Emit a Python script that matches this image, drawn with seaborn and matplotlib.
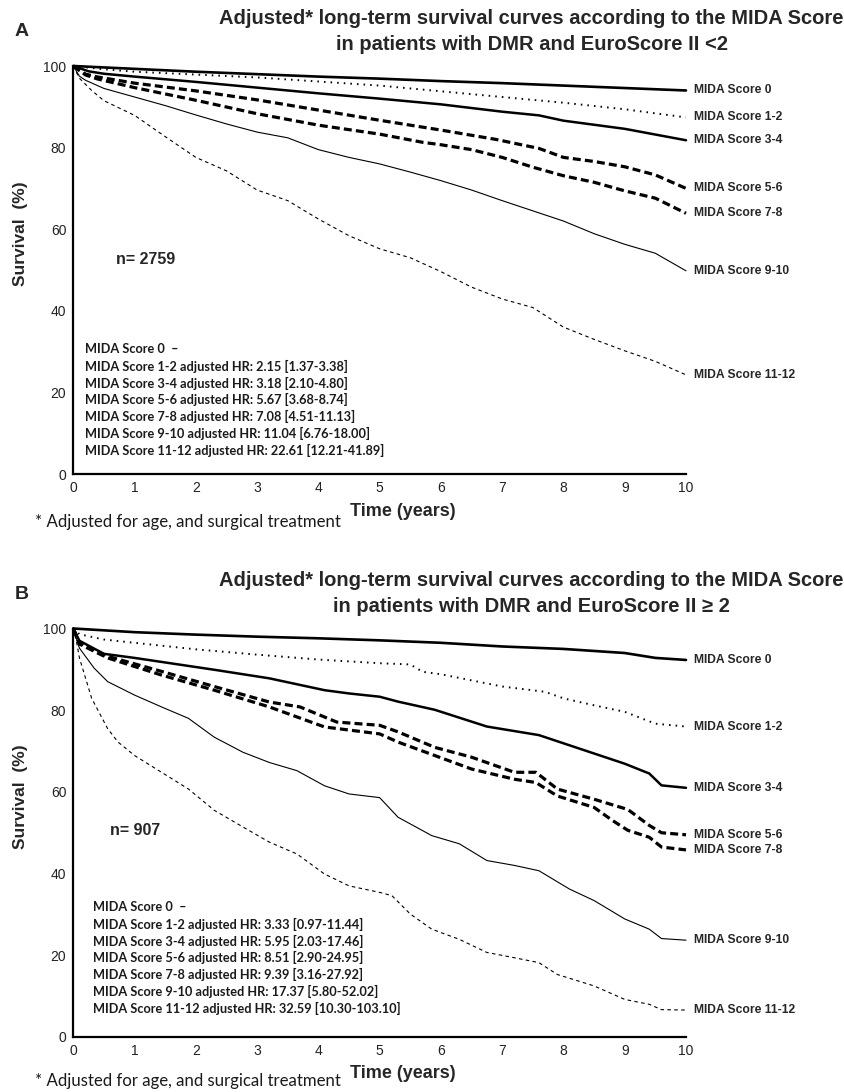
import numpy as np
import pandas as pd
import matplotlib
matplotlib.use("Agg")
import matplotlib.pyplot as plt
import seaborn as sns

sns.set_theme(style="white")
plt.rcParams['font.family'] = ['Liberation Sans', 'DejaVu Sans']

# ---------------- data ----------------
groups = ["MIDA Score 0", "MIDA Score 1-2", "MIDA Score 3-4", "MIDA Score 5-6",
          "MIDA Score 7-8", "MIDA Score 9-10", "MIDA Score 11-12"]

# Panel A  (EuroScore II < 2)
a_t0 = [0, 1, 2, 3, 4, 5, 6, 7, 8, 9, 10]
a_v0 = [100, 99.3, 98.6, 98.0, 97.4, 96.9, 96.3, 95.8, 95.2, 94.6, 94.0]
a_t1 = [0, 0.5, 1, 2, 3, 4, 5, 6, 7, 8, 9, 10]
a_v1 = [100, 99.2, 98.6, 97.9, 97.2, 96.2, 95.2, 93.8, 92.4, 91.0, 89.4, 87.4]
a_t2 = [0, 0.25, 0.5, 1, 2, 3, 4, 5, 6, 7, 7.6, 8, 9, 10]
a_v2 = [100, 98.7, 98.1, 97.4, 96.1, 94.7, 93.3, 92.0, 90.6, 88.8, 87.9, 86.6, 84.6, 81.8]
a_t3 = [0, 0.2, 0.4, 1, 2, 3, 4, 5, 6, 6.9, 7.6, 8, 8.5, 9, 9.5, 10]
a_v3 = [100, 98.0, 97.3, 95.8, 93.9, 91.7, 89.2, 86.7, 84.3, 82.0, 79.8, 77.6, 76.6, 75.3, 73.3, 70.0]
a_t4 = [0, 0.2, 0.4, 1, 2, 3, 4, 5, 5.7, 6, 6.5, 7, 7.5, 8, 8.5, 9, 9.5, 10]
a_v4 = [100, 97.8, 96.8, 94.7, 91.6, 88.3, 85.5, 83.3, 81.3, 80.7, 79.5, 77.6, 75.2, 73.1, 71.5, 69.4, 67.6, 63.9]
a_t5 = [0, 0.1, 0.2, 0.5, 1, 1.5, 2, 2.5, 3, 3.5, 4, 4.5, 5, 5.5, 6, 6.5, 7, 7.5, 8, 8.5, 9, 9.5, 10]
a_v5 = [100, 97.5, 96.5, 94.5, 92.4, 90.3, 88.0, 85.8, 83.8, 82.4, 79.5, 77.6, 76.0, 74.0, 71.9, 69.6, 67.0,
        64.5, 62.0, 58.9, 56.3, 54.1, 49.8]
a_t6 = [0, 0.1, 0.3, 0.5, 1, 1.5, 2, 2.5, 3, 3.5, 4, 4.5, 5, 5.5, 6, 6.5, 7, 7.5, 8, 8.5, 9, 9.5, 10]
a_v6 = [100, 97.0, 94.0, 91.5, 87.9, 82.7, 77.6, 74.3, 69.6, 67.0, 62.5, 58.4, 55.2, 53.0, 49.6, 45.8, 42.9,
        40.8, 36.0, 33.0, 30.2, 27.6, 24.3]

# Panel B  (EuroScore II >= 2)
b_t0 = [0, 1, 2, 3, 4, 5, 6, 7, 8, 9, 9.5, 10]
b_v0 = [100, 99.1, 98.5, 98.0, 97.6, 97.1, 96.5, 95.6, 95.0, 94.0, 92.8, 92.3]
b_t1 = [0, 0.1, 0.5, 1, 2, 3, 4, 5, 5.5, 5.7, 6, 7, 7.7, 8, 8.5, 9, 9.5, 10]
b_v1 = [100, 98.6, 97.3, 96.5, 94.9, 93.6, 92.4, 91.5, 91.2, 89.4, 88.8, 85.8, 84.5, 82.9, 81.2, 79.6, 76.7, 76.0]
b_t2 = [0, 0.1, 0.5, 1, 2.3, 3.2, 4.1, 4.5, 5, 5.3, 5.9, 6.75, 7.6, 8.1, 8.5, 9, 9.4, 9.6, 10]
b_v2 = [100, 97.0, 93.8, 92.8, 89.9, 87.8, 84.9, 84.1, 83.3, 82.1, 80.1, 76.0, 73.9, 71.4, 69.4, 66.9, 64.5, 61.6, 61.0]
b_t3 = [0, 0.1, 0.56, 1.44, 2.3, 3.2, 3.7, 4.3, 5, 5.3, 5.9, 6.5, 7.2, 7.55, 7.9, 8.5, 9.05, 9.4, 9.6, 10]
b_v3 = [100, 96.5, 93.2, 89.5, 85.8, 82.0, 80.8, 77.1, 76.3, 74.7, 70.9, 68.5, 64.8, 64.8, 60.7, 58.2, 55.7,
        51.8, 50.0, 49.5]
b_t4 = [0, 0.1, 0.56, 1.44, 2.3, 3.2, 4.1, 5, 5.3, 5.9, 6.5, 7.2, 7.55, 7.9, 8.5, 8.8, 9.05, 9.4, 9.6, 10]
b_v4 = [100, 96.2, 92.8, 88.6, 84.9, 80.8, 75.9, 74.2, 72.2, 68.9, 65.6, 63.1, 62.3, 59.0, 56.2, 53.0, 50.6,
        48.9, 46.5, 45.8]
b_t5 = [0, 0.1, 0.34, 0.56, 1, 1.44, 1.88, 2.3, 2.77, 3.2, 3.65, 4.1, 4.5, 5, 5.3, 5.85, 6.3, 6.75, 7.2, 7.6,
        8.1, 8.5, 9, 9.4, 9.6, 10]
b_v5 = [100, 95.2, 90.3, 87.0, 83.7, 80.8, 78.0, 73.4, 69.7, 67.2, 65.2, 61.5, 59.5, 58.6, 53.8, 49.3, 47.3,
        43.2, 42.0, 40.7, 36.2, 33.4, 28.9, 26.4, 24.1, 23.7]
b_t6 = [0, 0.05, 0.1, 0.3, 0.56, 0.73, 1, 1.44, 1.88, 2.3, 2.77, 3.2, 3.65, 4.1, 4.5, 5, 5.2, 5.5, 5.85, 6.3,
        6.75, 7.2, 7.6, 7.9, 8.5, 9, 9.4, 9.6, 10]
b_v6 = [100, 97.0, 92.8, 82.9, 75.5, 72.2, 68.9, 64.8, 60.7, 55.5, 51.4, 47.7, 44.8, 39.9, 37.0, 35.4, 34.6,
        30.1, 26.4, 23.9, 20.7, 19.4, 18.2, 15.3, 12.5, 9.2, 8.0, 6.7, 6.6]

hr_a = ["MIDA Score 0  \u2013",
        "MIDA Score 1-2 adjusted HR: 2.15 [1.37-3.38]",
        "MIDA Score 3-4 adjusted HR: 3.18 [2.10-4.80]",
        "MIDA Score 5-6 adjusted HR: 5.67 [3.68-8.74]",
        "MIDA Score 7-8 adjusted HR: 7.08 [4.51-11.13]",
        "MIDA Score 9-10 adjusted HR: 11.04 [6.76-18.00]",
        "MIDA Score 11-12 adjusted HR: 22.61 [12.21-41.89]"]
hr_b = ["MIDA Score 0  \u2013",
        "MIDA Score 1-2 adjusted HR: 3.33 [0.97-11.44]",
        "MIDA Score 3-4 adjusted HR: 5.95 [2.03-17.46]",
        "MIDA Score 5-6 adjusted HR: 8.51 [2.90-24.95]",
        "MIDA Score 7-8 adjusted HR: 9.39 [3.16-27.92]",
        "MIDA Score 9-10 adjusted HR: 17.37 [5.80-52.02]",
        "MIDA Score 11-12 adjusted HR: 32.59 [10.30-103.10]"]

title_a = ["Adjusted* long-term survival curves according to the MIDA Score",
           "in patients with DMR and EuroScore II <2"]
title_b = ["Adjusted* long-term survival curves according to the MIDA Score",
           "in patients with DMR and EuroScore II \u2265 2"]
n_a = "n= 2759"
n_b = "n= 907"
footnote = "* Adjusted for age, and surgical treatment"
x_ticks = list(range(0, 11))
y_ticks = [0, 20, 40, 60, 80, 100]

panel_a = [(a_t0, a_v0), (a_t1, a_v1), (a_t2, a_v2), (a_t3, a_v3), (a_t4, a_v4), (a_t5, a_v5), (a_t6, a_v6)]
panel_b = [(b_t0, b_v0), (b_t1, b_v1), (b_t2, b_v2), (b_t3, b_v3), (b_t4, b_v4), (b_t5, b_v5), (b_t6, b_v6)]

# ---------------- styles ----------------
styles = [
    dict(lw=1.9, ls='-'),
    dict(lw=1.4, ls=(0, (0.8, 2.6))),
    dict(lw=1.8, ls='-'),
    dict(lw=2.3, ls=(0, (2.5, 1.3))),
    dict(lw=2.3, ls=(0, (2.5, 1.3))),
    dict(lw=0.8, ls='-'),
    dict(lw=0.8, ls=(0, (3.2, 3.0))),
]

W, H = 845, 1092
fig = plt.figure(figsize=(W / 100, H / 100), dpi=100)

def make_panel(rect, data, hr_lines, titles, letter, ntext, npos, hrpos, top_px, foot_px):
    ax = fig.add_axes(rect)
    for (t, v), name, st in zip(data, groups, styles):
        df = pd.DataFrame({"t": t, "v": v})
        sns.lineplot(data=df, x="t", y="v", ax=ax, color="black", lw=st['lw'],
                     linestyle=st['ls'], estimator=None, sort=False, errorbar=None,
                     clip_on=False)
        ax.annotate(name, xy=(10, v[-1]), xytext=(6, 0), textcoords="offset points",
                    ha="left", va="center", fontsize=8.7, fontweight="bold")
    ax.set_xlim(0, 10)
    ax.set_ylim(0, 100)
    ax.set_xticks(x_ticks)
    ax.set_yticks(y_ticks)
    ax.set_xlabel("")
    ax.set_ylabel("")
    for s in ["top", "right"]:
        ax.spines[s].set_visible(False)
    for s in ["left", "bottom"]:
        ax.spines[s].set_color("black")
        ax.spines[s].set_linewidth(1.6)
    ax.tick_params(axis="x", direction="in", length=5, width=1.5, color="black",
                   labelsize=10, pad=5, labelcolor="#222222")
    ax.tick_params(axis="y", direction="in", length=3.5, width=1.2, color="black",
                   labelsize=10, pad=5, labelcolor="#222222")
    ax.text(npos[0], npos[1], ntext, fontsize=11.5, fontweight="bold", ha="left", va="center")
    for i, line in enumerate(hr_lines):
        ax.text(hrpos[0], hrpos[1] - i * 0.0415, line, transform=ax.transAxes,
                fontsize=9.2, fontweight="bold", ha="left", va="center",
                family=["Lato", "DejaVu Sans"], color="#1a1a1a")
    # titles and labels in figure pixels
    fig.text(0.629, 1 - (top_px - 47.5) / H, titles[0], ha="center", va="center",
             fontsize=14.5, fontweight="bold")
    fig.text(0.629, 1 - (top_px - 22) / H, titles[1], ha="center", va="center",
             fontsize=14.5, fontweight="bold")
    fig.text(22 / W, 1 - (top_px - 34) / H, letter, ha="center", va="center",
             fontsize=14, fontweight="bold")
    fig.text(21 / W, 1 - (top_px + 168) / H, "Survival  (%)", rotation=90, ha="center",
             va="center", fontsize=12.5, fontweight="bold")
    fig.text(403 / W, 1 - (top_px + 445.5) / H, "Time (years)", ha="center", va="center",
             fontsize=13, fontweight="bold")
    fig.text(35 / W, 1 - foot_px / H, footnote, ha="left", va="center",
             fontsize=12.1, family=["Lato", "DejaVu Sans"], color="#1a1a1a")
    return ax

axA = make_panel([73.3 / W, 1 - 474 / H, 612.7 / W, 408 / H], panel_a, hr_a, title_a, "A",
                 n_a, (0.69, 52.5), (0.019, 0.306), 66, 522)
axB = make_panel([73.3 / W, 1 - 1037 / H, 612.7 / W, 408.5 / H], panel_b, hr_b, title_b, "B",
                 n_b, (0.60, 50.5), (0.032, 0.318), 628.5, 1081)

fig.savefig("out.png", dpi=100)
